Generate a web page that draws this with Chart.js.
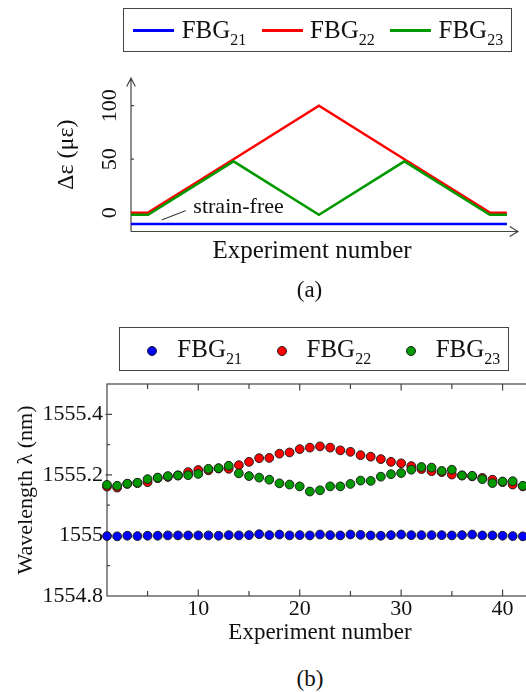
<!DOCTYPE html>
<html>
<head>
<meta charset="utf-8">
<script src="https://cdn.jsdelivr.net/npm/chart.js@4.4.1/dist/chart.umd.min.js"></script>
<style>
  html, body { margin:0; padding:0; background:#fff; }
  body { width:526px; height:692px; overflow:hidden; position:relative; font-family:"Liberation Serif", serif; color:#111; }
  canvas { position:absolute; left:0; }
  #chartA { top:0; }
  #chartB { top:320px; }
  .legend-box { position:absolute; border:1.3px solid #444; box-sizing:border-box; }
  .lg-text { position:absolute; font-size:25px; line-height:25px; white-space:nowrap; color:#111; }
  .lg-text sub { font-size:16px; vertical-align:-6.6px; line-height:0; }
  .caption { position:absolute; width:100px; text-align:center; font-size:23px; line-height:23px; color:#111; }
</style>
</head>
<body>
<canvas id="chartA" width="526" height="320"></canvas>
<canvas id="chartB" width="560" height="340"></canvas>
<div class="caption" style="left:259.5px; top:278.3px;">(a)</div>
<div class="caption" style="left:260px; top:666.6px;">(b)</div>
<script>
// ---------- data: panel (a) strain schedule ----------
const seriesNames = ['FBG21', 'FBG22', 'FBG23'];
const stepsA = [0, 2, 12, 22, 32, 42, 44];
const strainFBG21 = [-10.6, -10.6, -10.6, -10.6, -10.6, -10.6, -10.6];
const strainFBG22 = [0, 0, 50, 100, 50, 0, 0];
const strainFBG23 = [-2, -2, 48, -2, 48, -2, -2];
const yTicksA = [0, 50, 100];

// ---------- data: panel (b) measured wavelengths ----------
const experimentNo = [1,2,3,4,5,6,7,8,9,10,11,12,13,14,15,16,17,18,19,20,21,22,23,24,25,26,27,28,29,30,31,32,33,34,35,36,37,38,39,40,41,42];
const wlFBG21 = [1554.998,1554.997,1554.999,1554.998,1554.999,1554.999,1555.000,1555.000,1555.000,1555.000,1555.000,1554.999,1555.001,1555.000,1555.001,1555.004,1555.001,1555.003,1555.000,1555.001,1555.000,1555.003,1555.001,1555.000,1555.003,1555.002,1555.000,1554.999,1555.001,1555.003,1555.001,1555.001,1555.001,1555.001,1555.000,1555.001,1555.003,1555.000,1555.000,1554.999,1554.998,1554.997];
const wlFBG22 = [1555.161,1555.158,1555.170,1555.173,1555.176,1555.189,1555.193,1555.198,1555.209,1555.216,1555.215,1555.221,1555.220,1555.232,1555.243,1555.255,1555.256,1555.270,1555.274,1555.285,1555.290,1555.294,1555.290,1555.281,1555.276,1555.265,1555.260,1555.252,1555.243,1555.238,1555.229,1555.219,1555.212,1555.209,1555.201,1555.198,1555.195,1555.190,1555.184,1555.176,1555.168,1555.162];
const wlFBG23 = [1555.167,1555.164,1555.171,1555.174,1555.186,1555.191,1555.196,1555.198,1555.199,1555.203,1555.220,1555.222,1555.230,1555.205,1555.196,1555.191,1555.184,1555.172,1555.168,1555.162,1555.145,1555.149,1555.162,1555.162,1555.170,1555.181,1555.180,1555.194,1555.202,1555.206,1555.217,1555.226,1555.224,1555.213,1555.217,1555.198,1555.197,1555.186,1555.173,1555.178,1555.179,1555.164];
const yTicksB = [1554.9, 1555.0, 1555.1, 1555.2, 1555.3, 1555.4];
const yTickLabelsB = ['1554.8', '1555', '1555.2', '1555.4'];
const xTicksB = [5, 10, 15, 20, 25, 30, 35, 40];
const xTickLabelsB = [10, 20, 30, 40];

// ---------- styling ----------
const COL_BLUE = '#0000ff', COL_RED = '#ff0000', COL_GREEN = '#009a00';
const FONT = "'Liberation Serif', serif";
const TXT = '#111';
const AXIS = '#444';

const toXY = (xs, ys) => xs.map((x, i) => ({ x, y: ys[i] }));

// ---------- panel (a) ----------
const axesA = {
  id: 'axesA',
  beforeDatasetsDraw(chart) {
    const { ctx, chartArea: { left, right, top, bottom }, scales: { y } } = chart;
    const tip = right + 25;
    ctx.save();
    ctx.strokeStyle = AXIS; ctx.lineWidth = 1.2;
    ctx.beginPath();
    ctx.moveTo(left, bottom); ctx.lineTo(left, top);
    ctx.moveTo(left, bottom); ctx.lineTo(tip, bottom);
    ctx.moveTo(left - 4.3, top + 8.4); ctx.lineTo(left, top); ctx.lineTo(left + 4.3, top + 8.4);
    ctx.moveTo(tip - 8.3, bottom - 5); ctx.lineTo(tip, bottom); ctx.lineTo(tip - 8.3, bottom + 5);
    yTicksA.forEach(v => { const py = y.getPixelForValue(v); ctx.moveTo(left, py); ctx.lineTo(left + 3, py); });
    ctx.stroke();
    ctx.restore();
  },
  afterDraw(chart) {
    const { ctx, scales: { x, y } } = chart;
    ctx.save();
    const base = y.getPixelForValue(0);
    ctx.font = "22px " + FONT;
    ctx.fillStyle = TXT;
    ctx.textBaseline = 'alphabetic';
    ctx.textAlign = 'left';
    ctx.fillText('strain-free', x.getPixelForValue(7.3), base);
    ctx.strokeStyle = '#222'; ctx.lineWidth = 1;
    ctx.beginPath();
    ctx.moveTo(x.getPixelForValue(3.6), y.getPixelForValue(-6.8));
    ctx.lineTo(x.getPixelForValue(6.4), y.getPixelForValue(1.9));
    ctx.stroke();
    ctx.restore();
  }
};

const chartA = new Chart(document.getElementById('chartA'), {
  type: 'line',
  data: {
    datasets: [
      { label: seriesNames[0], data: toXY(stepsA, strainFBG21), borderColor: COL_BLUE, backgroundColor: COL_BLUE },
      { label: seriesNames[2], data: toXY(stepsA, strainFBG23), borderColor: COL_GREEN, backgroundColor: COL_GREEN },
      { label: seriesNames[1], data: toXY(stepsA, strainFBG22), borderColor: COL_RED, backgroundColor: COL_RED }
    ]
  },
  options: {
    responsive: false, animation: false, devicePixelRatio: 1,
    layout: { padding: { left: 0, top: 78, right: 33, bottom: 0 } },
    elements: { line: { borderWidth: 2.5, tension: 0 }, point: { radius: 0 } },
    datasets: { line: { clip: false } },
    plugins: { legend: { display: false }, tooltip: { enabled: false } },
    scales: {
      x: {
        type: 'linear', min: 0, max: 42.37,
        ticks: { display: false },
        grid: { display: false, drawTicks: false },
        border: { display: false },
        title: { display: true, text: 'Experiment number', color: TXT, font: { family: FONT, size: 25 }, padding: { top: 0, bottom: 54 } },
        afterFit: s => { s.height = 88.5; }
      },
      y: {
        type: 'linear', min: -17.6, max: 125.9,
        afterBuildTicks: s => { s.ticks = yTicksA.map(v => ({ value: v })); },
        ticks: {
          autoSkip: false, minRotation: 90, maxRotation: 90, crossAlign: 'center', padding: 4.5,
          color: TXT, font: { family: FONT, size: 22 },
          callback: v => String(v)
        },
        grid: { display: false, drawTicks: false },
        border: { display: false },
        title: { display: true, text: 'Δε (με)', color: TXT, font: { family: FONT, size: 24 }, padding: { top: 52.6, bottom: 0 } },
        afterFit: s => { s.width = 131; }
      }
    }
  },
  plugins: [axesA]
});

// ---------- panel (b) ----------
const frameB = {
  id: 'frameB',
  beforeDatasetsDraw(chart) {
    const { ctx, chartArea: { left, right, top, bottom }, scales: { x, y } } = chart;
    ctx.save();
    ctx.strokeStyle = AXIS; ctx.lineWidth = 1.2;
    ctx.strokeRect(left, top, right - left, bottom - top);
    ctx.beginPath();
    y.ticks.forEach(t => {
      if (t.value <= y.min + 1e-9 || t.value >= y.max - 1e-9) return;
      const py = y.getPixelForValue(t.value);
      const len = t.label ? 5 : 3;
      ctx.moveTo(left - (t.label ? 1.5 : 0), py); ctx.lineTo(left + len, py);
    });
    x.ticks.forEach(t => {
      if (t.value <= x.min || t.value >= x.max) return;
      const px = x.getPixelForValue(t.value);
      const len = t.label ? 6.5 : 5;
      ctx.moveTo(px, bottom); ctx.lineTo(px, bottom - len);
      ctx.moveTo(px, top); ctx.lineTo(px, top + len);
    });
    ctx.stroke();
    ctx.restore();
  }
};

const pointStyle = (col, order) => ({
  backgroundColor: col, borderColor: '#1e1e1e', borderWidth: 1,
  pointRadius: 4.4, pointHoverRadius: 4.4, order, clip: false
});

const chartB = new Chart(document.getElementById('chartB'), {
  type: 'scatter',
  data: {
    datasets: [
      Object.assign({ label: seriesNames[0], data: toXY(experimentNo, wlFBG21) }, pointStyle(COL_BLUE, 3)),
      Object.assign({ label: seriesNames[1], data: toXY(experimentNo, wlFBG22) }, pointStyle(COL_RED, 2)),
      Object.assign({ label: seriesNames[2], data: toXY(experimentNo, wlFBG23) }, pointStyle(COL_GREEN, 1))
    ]
  },
  options: {
    responsive: false, animation: false, devicePixelRatio: 1,
    layout: { padding: { left: 0, top: 64, right: 27, bottom: 0 } },
    plugins: { legend: { display: false }, tooltip: { enabled: false } },
    scales: {
      x: {
        type: 'linear', min: 1, max: 43,
        afterBuildTicks: s => { s.ticks = xTicksB.map(v => ({ value: v })); },
        ticks: {
          autoSkip: false, maxRotation: 0, padding: 0,
          color: TXT, font: { family: FONT, size: 22 },
          callback: v => xTickLabelsB.includes(v) ? String(v) : ''
        },
        grid: { display: false, drawTicks: false },
        border: { display: false },
        title: { display: true, text: 'Experiment number', color: TXT, font: { family: FONT, size: 23 }, padding: { top: 0, bottom: 13 } },
        afterFit: s => { s.height = 64; }
      },
      y: {
        type: 'linear', min: 1554.8, max: 1555.5,
        afterBuildTicks: s => { s.ticks = [s.min].concat(yTicksB).map(v => ({ value: v })); },
        ticks: {
          autoSkip: false, padding: 4,
          color: TXT, font: { family: FONT, size: 22 },
          callback: v => { const s = String(Math.round(v * 10) / 10); return yTickLabelsB.includes(s) ? s : ''; }
        },
        grid: { display: false, drawTicks: false },
        border: { display: false },
        title: { display: true, text: 'Wavelength λ (nm)', color: TXT, font: { family: FONT, size: 22 }, padding: { top: 13, bottom: 0 } },
        afterFit: s => { s.width = 107; }
      }
    }
  },
  plugins: [frameB]
});

// ---------- HTML legends built from the chart datasets ----------
function buildLegend(chart, opt) {
  const box = document.createElement('div');
  box.className = 'legend-box';
  Object.assign(box.style, { left: opt.box[0] + 'px', top: opt.box[1] + 'px', width: opt.box[2] + 'px', height: opt.box[3] + 'px' });
  document.body.appendChild(box);
  seriesNames.forEach((name, i) => {
    const ds = chart.data.datasets.find(d => d.label === name);
    const x0 = opt.x0 + i * opt.dx;
    const s = document.createElement('div');
    s.style.position = 'absolute';
    if (opt.kind === 'line') {
      Object.assign(s.style, { left: x0 + 'px', top: (opt.y - 1.4) + 'px', width: opt.sw + 'px', height: '2.8px', background: ds.borderColor });
    } else {
      const r = opt.r;
      Object.assign(s.style, { left: (x0 - r) + 'px', top: (opt.y - r) + 'px', width: 2 * r + 'px', height: 2 * r + 'px', borderRadius: '50%', background: ds.backgroundColor, border: '1px solid ' + ds.borderColor, boxSizing: 'border-box' });
    }
    document.body.appendChild(s);
    const t = document.createElement('div');
    t.className = 'lg-text';
    const m = name.match(/^(\D+)(\d+)$/);
    t.innerHTML = m[1] + '<sub>' + m[2] + '</sub>';
    t.style.left = (x0 + opt.textOff) + 'px';
    t.style.top = (opt.baseline - 20.9) + 'px';
    document.body.appendChild(t);
  });
}
buildLegend(chartA, { kind: 'line', box: [123, 7.5, 389, 44.5], x0: 133.3, dx: 128.4, sw: 41, textOff: 48.4, y: 30.5, baseline: 37.7 });
buildLegend(chartB, { kind: 'dot', box: [118.5, 326.5, 390, 44.5], x0: 152.3, dx: 129.2, r: 5, textOff: 25, y: 350.7, baseline: 356.7 });
</script>
</body>
</html>
